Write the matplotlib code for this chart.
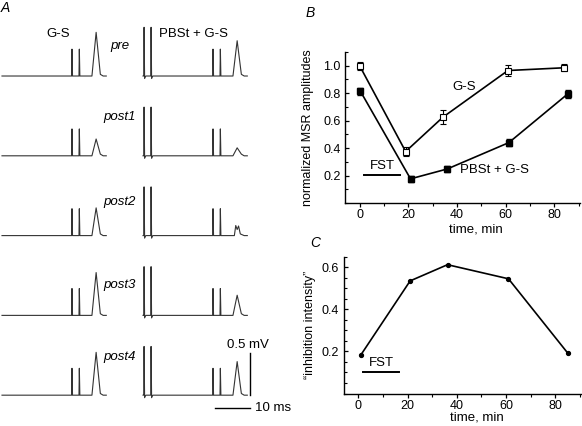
import numpy as np
import matplotlib
matplotlib.use("Agg")
import matplotlib.pyplot as plt
from matplotlib.ticker import MultipleLocator

plt.rcParams['font.family'] = ['Liberation Sans', 'DejaVu Sans']
plt.rcParams['font.size'] = 9

# ---- data ----
# panel A: sample traces (mV), one row per time point
rows = ["pre", "post1", "post2", "post3", "post4"]
row_base = [0.0, -0.95, -1.9, -2.85, -3.8]
row_label_y = [0.36, 0.46, 0.40, 0.36, 0.45]
left_peak = [0.52, 0.20, 0.33, 0.51, 0.51]
right_peak = [0.42, 0.095, 0.12, 0.24, 0.40]
stim_times = [20.0, 22.1]       # ms, G-S test stimuli
cond_times = [0.3, 2.3]         # ms, PBSt conditioning stimuli
stim_amp = 0.32
cond_amp = 0.58
peak_time = 26.9
right_offset = 40.3

# panel B: normalized MSR amplitudes
gs_time = [0, 18.9, 34.2, 60.9, 83.9]
gs_amp = [1.0, 0.375, 0.625, 0.965, 0.985]
gs_err = [0.03, 0.03, 0.05, 0.04, 0.025]
pb_time = [0.3, 20.9, 36.0, 61.3, 85.5]
pb_amp = [0.815, 0.176, 0.248, 0.44, 0.795]
pb_err = [0.025, 0.02, 0.025, 0.025, 0.03]

# panel C: inhibition intensity
c_time = [1.0, 21.0, 36.2, 61.0, 85.1]
c_val = [0.184, 0.535, 0.612, 0.545, 0.192]

fst_b = [1.6, 16.4]
fst_c = [2.0, 16.5]


def trace(peaks, cond=False, double=False):
    # piecewise-linear sketch of a recorded sweep
    pts = [(0.0, 0.0)]
    if cond:
        for t in cond_times:
            pts += [(t - 0.1, 0.0), (t, cond_amp), (t + 0.15, -0.03), (t + 0.5, 0.0)]
    for t in stim_times:
        pts += [(t - 0.1, 0.0), (t, stim_amp), (t + 0.15, 0.0)]
    if double:
        pts += [(peak_time - 0.8, 0.0), (peak_time - 0.4, peaks), (peak_time, peaks * 0.6),
                (peak_time + 0.4, peaks * 0.95), (peak_time + 0.9, 0.02)]
    else:
        pts += [(peak_time - 1.2, 0.0), (peak_time, peaks), (peak_time + 1.2, 0.02)]
    pts += [(peak_time + 2.0, 0.0), (29.8, 0.0)]
    t, v = zip(*pts)
    return np.array(t), np.array(v)


fig = plt.figure(figsize=(5.82, 4.26), dpi=100)

# ---- panel A ----
axA = fig.add_axes([0, 0, 290 / 582, 1])
axA.set_xlim(-0.57, 82.3)
axA.set_ylim(-4.167, 0.905)
axA.axis("off")
for i, name in enumerate(rows):
    t, v = trace(left_peak[i])
    axA.plot(t, v + row_base[i], color="#333333", lw=0.8)
    t, v = trace(right_peak[i], cond=True, double=(name == "post2"))
    axA.plot(t + right_offset, v + row_base[i], color="#333333", lw=0.8)
    axA.text(33.7, row_base[i] + row_label_y[i], name, style="italic",
             ha="center", va="center", fontsize=9.5)
axA.text(16.0, 0.5, "G-S", ha="center", va="center", fontsize=9.5)
axA.text(54.6, 0.5, "PBSt + G-S", ha="center", va="center", fontsize=9.5)
# scale bars
axA.plot([70.9, 70.9], [row_base[4], row_base[4] + 0.5], color="black", lw=1)
axA.plot([60.9, 70.9], [row_base[4] - 0.155, row_base[4] - 0.155], color="black", lw=1)
axA.text(70.3, row_base[4] + 0.6, "0.5 mV", ha="center", va="center", fontsize=9.5)
axA.text(72.3, row_base[4] - 0.155, "10 ms", ha="left", va="center", fontsize=9.5)
fig.text(5 / 582, 1 - 8 / 426, "A", style="italic", fontsize=10, ha="center", va="center")

# ---- panel B ----
axB = fig.add_axes([345 / 582, 1 - 203 / 426, (580 - 345) / 582, (203 - 52) / 426])
axB.errorbar(gs_time, gs_amp, yerr=gs_err, color="black", lw=1.2, marker="s",
             ms=4.5, mfc="white", mec="black", mew=0.8, capsize=2.2, elinewidth=0.8)
axB.errorbar(pb_time, pb_amp, yerr=pb_err, color="black", lw=1.2, marker="s",
             ms=4.5, mfc="black", mec="black", capsize=2.2, elinewidth=0.8)
axB.plot(fst_b, [0.205, 0.205], color="black", lw=1.4)
axB.text(9.2, 0.266, "FST", ha="center", va="center", fontsize=9.5)
axB.text(42.8, 0.845, "G-S", ha="center", va="center", fontsize=9.5)
axB.text(55.4, 0.24, "PBSt + G-S", ha="center", va="center", fontsize=9.5)
axB.set_xlim(-6, 90.5)
axB.set_ylim(0, 1.1)
axB.set_yticks([0.2, 0.4, 0.6, 0.8, 1.0])
axB.set_xticks([0, 20, 40, 60, 80])
axB.xaxis.set_minor_locator(MultipleLocator(10))
axB.yaxis.set_minor_locator(MultipleLocator(0.1))
axB.set_ylabel("normalized MSR amplitudes", fontsize=9, va="center")
axB.set_xlabel("time, min", fontsize=9.5, va="center")
axB.yaxis.set_label_coords(-0.157, 0.5)
axB.xaxis.set_label_coords(0.557, -0.178)
fig.text(310 / 582, 1 - 13 / 426, "B", style="italic", fontsize=10, ha="center", va="center")

# ---- panel C ----
axC = fig.add_axes([343.5 / 582, 1 - 393.5 / 426, (582 - 343.5) / 582, (393.5 - 256.7) / 426])
axC.plot(c_time, c_val, color="black", lw=1.2, marker="o", ms=2.8)
axC.plot(fst_c, [0.1, 0.1], color="black", lw=1.4)
axC.text(9.2, 0.145, "FST", ha="center", va="center", fontsize=9.5)
axC.set_xlim(-6.1, 90.9)
axC.set_ylim(0, 0.65)
axC.set_yticks([0.2, 0.4, 0.6])
axC.set_xticks([0, 20, 40, 60, 80])
axC.xaxis.set_minor_locator(MultipleLocator(10))
axC.yaxis.set_minor_locator(MultipleLocator(0.05))
axC.set_ylabel("\u201cinhibition intensity\u201d", fontsize=9, va="center")
axC.set_xlabel("time, min", fontsize=9.5, va="center")
axC.yaxis.set_label_coords(-0.14, 0.5)
axC.xaxis.set_label_coords(0.558, -0.172)
fig.text(315 / 582, 1 - 243 / 426, "C", style="italic", fontsize=10, ha="center", va="center")

for ax in (axB, axC):
    for side in ("top", "right"):
        ax.spines[side].set_visible(False)
    for side in ("left", "bottom"):
        ax.spines[side].set_linewidth(1.0)
    ax.tick_params(which="major", length=3, width=0.9, labelsize=9, pad=1.5)
    ax.tick_params(which="minor", length=2, width=0.8)
    ax.tick_params(axis="y", which="both", direction="in", pad=3)

fig.savefig("out.png", dpi=100)
